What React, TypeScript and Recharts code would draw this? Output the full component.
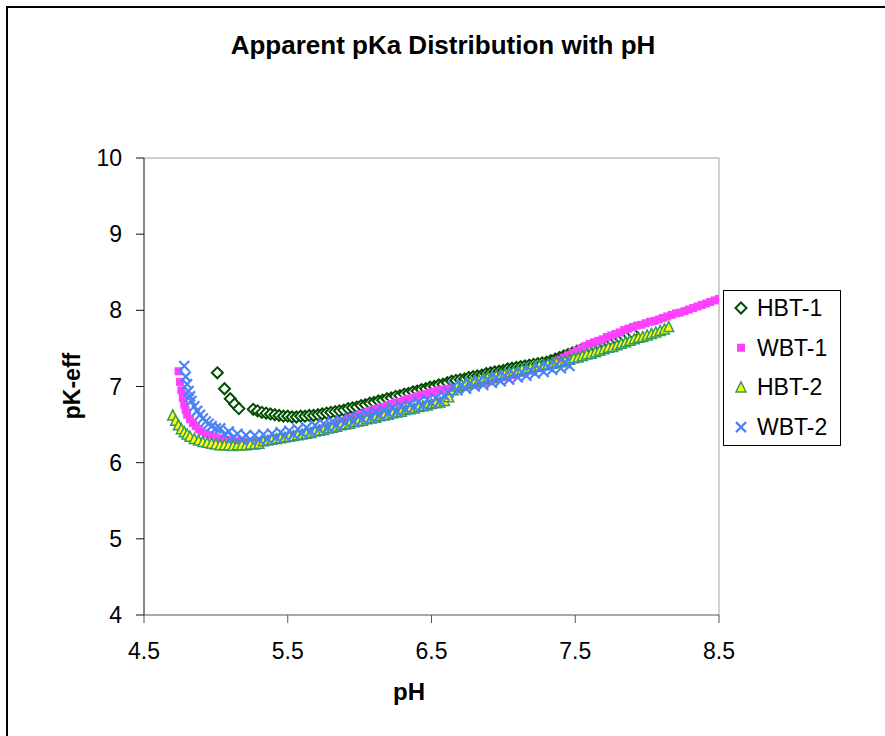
import React from 'react';
import { ScatterChart, Scatter, XAxis, YAxis, ReferenceLine } from 'recharts';

const FONT = '"Liberation Sans", Arial, Helvetica, sans-serif';
const chartTitle = 'Apparent pKa Distribution with pH';
const xTitle = 'pH';
const yTitle = 'pK-eff';
const xTicks = [4.5, 5.5, 6.5, 7.5, 8.5];
const yTicks = [4, 5, 6, 7, 8, 9, 10];
const seriesNames = ['HBT-1', 'WBT-1', 'HBT-2', 'WBT-2'];

// [pH, pK-eff]
const hbt1: [number, number][] = [
  [5.01, 7.18], [5.06, 6.97], [5.10, 6.84], [5.13, 6.77], [5.16, 6.71],
  [5.26, 6.70], [5.29, 6.68], [5.32, 6.66], [5.35, 6.65], [5.38, 6.64], [5.41, 6.63], [5.44, 6.62],
  [5.47, 6.61], [5.50, 6.61], [5.53, 6.60], [5.56, 6.60], [5.59, 6.61], [5.62, 6.61], [5.65, 6.62],
  [5.68, 6.62], [5.71, 6.63], [5.74, 6.64], [5.77, 6.65], [5.80, 6.66], [5.83, 6.67], [5.86, 6.68],
  [5.89, 6.69], [5.92, 6.71], [5.95, 6.72], [5.98, 6.73], [6.01, 6.75], [6.04, 6.76], [6.07, 6.78],
  [6.10, 6.79], [6.13, 6.81], [6.16, 6.82], [6.19, 6.84], [6.22, 6.85], [6.25, 6.87], [6.28, 6.88],
  [6.31, 6.90], [6.34, 6.91], [6.37, 6.93], [6.40, 6.94], [6.43, 6.96], [6.46, 6.97], [6.49, 6.99],
  [6.52, 7.00], [6.55, 7.02], [6.58, 7.03], [6.61, 7.05], [6.64, 7.07], [6.67, 7.08], [6.70, 7.09],
  [6.73, 7.10], [6.76, 7.12], [6.79, 7.13], [6.82, 7.14], [6.85, 7.15], [6.88, 7.17], [6.91, 7.18],
  [6.94, 7.19], [6.97, 7.20], [7.00, 7.21], [7.03, 7.23], [7.06, 7.24], [7.09, 7.25], [7.12, 7.26],
  [7.15, 7.27], [7.18, 7.28], [7.21, 7.29], [7.24, 7.30], [7.27, 7.31], [7.30, 7.32], [7.33, 7.34],
  [7.36, 7.36], [7.39, 7.38], [7.42, 7.40], [7.45, 7.42], [7.48, 7.44], [7.51, 7.46], [7.54, 7.48],
  [7.57, 7.50], [7.60, 7.52], [7.63, 7.54], [7.66, 7.56], [7.69, 7.58], [7.72, 7.60], [7.75, 7.61],
  [7.78, 7.63], [7.81, 7.64], [7.84, 7.66], [7.87, 7.68], [7.90, 7.70],
];

const wbt1: [number, number][] = [
  [4.74, 7.20], [4.75, 7.06], [4.76, 6.95], [4.77, 6.85], [4.78, 6.76], [4.79, 6.69], [4.80, 6.63],
  [4.82, 6.57], [4.84, 6.52], [4.86, 6.48], [4.88, 6.44], [4.90, 6.41], [4.93, 6.38], [4.96, 6.36],
  [4.99, 6.34], [5.02, 6.32], [5.05, 6.31], [5.08, 6.30], [5.11, 6.29], [5.14, 6.28], [5.17, 6.28],
  [5.20, 6.27], [5.23, 6.27], [5.26, 6.27], [5.29, 6.28], [5.32, 6.28], [5.35, 6.29], [5.38, 6.29],
  [5.41, 6.30], [5.44, 6.31], [5.47, 6.32], [5.50, 6.33], [5.53, 6.34], [5.56, 6.35], [5.59, 6.37],
  [5.62, 6.38], [5.65, 6.40], [5.68, 6.41], [5.71, 6.43], [5.74, 6.45], [5.77, 6.47], [5.80, 6.49],
  [5.83, 6.51], [5.86, 6.53], [5.89, 6.55], [5.92, 6.57], [5.95, 6.60], [5.98, 6.62], [6.01, 6.64],
  [6.04, 6.66], [6.07, 6.68], [6.10, 6.70], [6.13, 6.71], [6.16, 6.73], [6.19, 6.75], [6.22, 6.77],
  [6.25, 6.79], [6.28, 6.80], [6.31, 6.82], [6.34, 6.84], [6.37, 6.85], [6.40, 6.87], [6.43, 6.89],
  [6.46, 6.90], [6.49, 6.92], [6.52, 6.93], [6.55, 6.95], [6.58, 6.96], [6.61, 6.97], [6.64, 6.97],
  [6.67, 6.98], [6.70, 6.99], [6.73, 7.00], [6.76, 7.01], [6.79, 7.02], [6.82, 7.03], [6.85, 7.05],
  [6.88, 7.06], [6.91, 7.07], [6.94, 7.09], [6.97, 7.10], [7.00, 7.12], [7.03, 7.13], [7.06, 7.15],
  [7.09, 7.16], [7.12, 7.18], [7.15, 7.19], [7.18, 7.21], [7.21, 7.22], [7.24, 7.24], [7.27, 7.26],
  [7.30, 7.28], [7.33, 7.30], [7.36, 7.33], [7.39, 7.35], [7.42, 7.38], [7.45, 7.41], [7.48, 7.44],
  [7.51, 7.47], [7.54, 7.50], [7.57, 7.53], [7.60, 7.56], [7.63, 7.58], [7.66, 7.60], [7.69, 7.62],
  [7.72, 7.65], [7.75, 7.67], [7.78, 7.69], [7.81, 7.71], [7.84, 7.74], [7.87, 7.76], [7.90, 7.78],
  [7.93, 7.80], [7.96, 7.81], [7.99, 7.83], [8.02, 7.85], [8.05, 7.86], [8.08, 7.88], [8.11, 7.90],
  [8.14, 7.92], [8.17, 7.94], [8.20, 7.96], [8.23, 7.97], [8.26, 7.99], [8.29, 8.01], [8.32, 8.03],
  [8.35, 8.05], [8.38, 8.07], [8.41, 8.09], [8.44, 8.11], [8.47, 8.13], [8.50, 8.15],
];

const hbt2: [number, number][] = [
  [4.70, 6.62], [4.72, 6.55], [4.74, 6.49], [4.76, 6.44], [4.78, 6.40], [4.80, 6.37], [4.82, 6.34],
  [4.85, 6.31], [4.88, 6.29], [4.91, 6.27], [4.94, 6.26], [4.97, 6.25], [5.00, 6.24], [5.03, 6.23],
  [5.06, 6.23], [5.09, 6.23], [5.12, 6.22], [5.15, 6.23], [5.18, 6.23], [5.21, 6.23], [5.24, 6.24],
  [5.27, 6.24], [5.30, 6.25], [5.33, 6.28], [5.36, 6.29], [5.39, 6.30], [5.42, 6.31], [5.45, 6.32],
  [5.48, 6.33], [5.51, 6.34], [5.54, 6.35], [5.57, 6.36], [5.60, 6.37], [5.63, 6.38], [5.66, 6.39],
  [5.69, 6.41], [5.72, 6.42], [5.75, 6.43], [5.78, 6.45], [5.81, 6.46], [5.84, 6.47], [5.87, 6.49],
  [5.90, 6.50], [5.93, 6.51], [5.96, 6.53], [5.99, 6.54], [6.02, 6.55], [6.05, 6.57], [6.08, 6.58],
  [6.11, 6.59], [6.14, 6.61], [6.17, 6.62], [6.20, 6.63], [6.23, 6.65], [6.26, 6.66], [6.29, 6.67],
  [6.32, 6.69], [6.35, 6.70], [6.38, 6.71], [6.41, 6.73], [6.44, 6.74], [6.47, 6.75], [6.50, 6.77],
  [6.53, 6.78], [6.56, 6.79], [6.59, 6.81], [6.62, 6.86], [6.65, 6.95], [6.68, 7.00], [6.71, 7.02],
  [6.74, 7.04], [6.77, 7.05], [6.80, 7.07], [6.83, 7.08], [6.86, 7.10], [6.89, 7.11], [6.92, 7.12],
  [6.95, 7.14], [6.98, 7.15], [7.01, 7.16], [7.04, 7.18], [7.07, 7.19], [7.10, 7.20], [7.13, 7.22],
  [7.16, 7.23], [7.19, 7.24], [7.22, 7.26], [7.25, 7.27], [7.28, 7.28], [7.31, 7.29], [7.34, 7.30],
  [7.37, 7.31], [7.40, 7.32], [7.43, 7.33], [7.46, 7.35], [7.49, 7.37], [7.52, 7.38], [7.55, 7.40],
  [7.58, 7.42], [7.61, 7.43], [7.64, 7.45], [7.67, 7.47], [7.70, 7.49], [7.73, 7.51], [7.76, 7.52],
  [7.79, 7.54], [7.82, 7.56], [7.85, 7.58], [7.88, 7.60], [7.91, 7.62], [7.94, 7.64], [7.97, 7.65],
  [8.00, 7.67], [8.03, 7.69], [8.06, 7.71], [8.09, 7.73], [8.12, 7.75], [8.15, 7.78],
];

const wbt2: [number, number][] = [
  [4.78, 7.27], [4.79, 7.13], [4.80, 7.03], [4.81, 6.94], [4.82, 6.87], [4.83, 6.81], [4.85, 6.74],
  [4.87, 6.68], [4.89, 6.63], [4.91, 6.58], [4.93, 6.54], [4.95, 6.51], [4.97, 6.48], [5.00, 6.45],
  [5.03, 6.45], [5.06, 6.37], [5.09, 6.41], [5.12, 6.33], [5.15, 6.38], [5.18, 6.31], [5.21, 6.36],
  [5.24, 6.30], [5.27, 6.36], [5.30, 6.30], [5.33, 6.37], [5.36, 6.31], [5.39, 6.38], [5.42, 6.33],
  [5.45, 6.40], [5.48, 6.35], [5.51, 6.42], [5.54, 6.37], [5.57, 6.44], [5.60, 6.39], [5.63, 6.46],
  [5.66, 6.41], [5.69, 6.49], [5.72, 6.44], [5.75, 6.51], [5.78, 6.46], [5.81, 6.54], [5.84, 6.49],
  [5.87, 6.56], [5.90, 6.52], [5.93, 6.59], [5.96, 6.54], [5.99, 6.61], [6.02, 6.57], [6.05, 6.64],
  [6.08, 6.59], [6.11, 6.67], [6.14, 6.62], [6.17, 6.69], [6.20, 6.65], [6.23, 6.72], [6.26, 6.67],
  [6.29, 6.75], [6.32, 6.70], [6.35, 6.77], [6.38, 6.73], [6.41, 6.80], [6.44, 6.75], [6.47, 6.83],
  [6.50, 6.78], [6.53, 6.85], [6.56, 6.81], [6.59, 6.88], [6.62, 6.92], [6.65, 7.00], [6.68, 6.95],
  [6.71, 7.02], [6.74, 6.97], [6.77, 7.05], [6.80, 7.00], [6.83, 7.07], [6.86, 7.02], [6.89, 7.09],
  [6.92, 7.05], [6.95, 7.12], [6.98, 7.07], [7.01, 7.14], [7.04, 7.09], [7.07, 7.17], [7.10, 7.12],
  [7.13, 7.19], [7.16, 7.14], [7.19, 7.21], [7.22, 7.17], [7.25, 7.24], [7.28, 7.19], [7.31, 7.26],
  [7.34, 7.22], [7.37, 7.29], [7.40, 7.24], [7.43, 7.31], [7.46, 7.27],
];

const toPts = (a: [number, number][]) => a.map(([ph, pk]) => ({ ph, pk }));

const GREEN = '#004d00';
const PINK = '#ff40ff';
const YELLOW = '#ffff00';
const SEA = '#339966';
const BLUE = '#4a82f7';

const DiamondMark = (p: any) => {
  const { cx, cy } = p;
  const r = 5.5;
  return <path d={`M${cx},${cy - r}L${cx + r},${cy}L${cx},${cy + r}L${cx - r},${cy}Z`} fill="#fff" stroke={GREEN} strokeWidth={2} />;
};
const SquareMark = (p: any) => {
  const { cx, cy } = p;
  return <rect x={cx - 4} y={cy - 4} width={8} height={8} fill={PINK} />;
};
const TriangleMark = (p: any) => {
  const { cx, cy } = p;
  return <path d={`M${cx},${cy - 5.5}L${cx + 5},${cy + 4.5}L${cx - 5},${cy + 4.5}Z`} fill={YELLOW} stroke={SEA} strokeWidth={1.5} />;
};
const CrossMark = (p: any) => {
  const { cx, cy } = p;
  const r = 5;
  return (
    <g stroke={BLUE} strokeWidth={2.2}>
      <line x1={cx - r} y1={cy - r} x2={cx + r} y2={cy + r} />
      <line x1={cx - r} y1={cy + r} x2={cx + r} y2={cy - r} />
    </g>
  );
};

const legendIcons = [DiamondMark, SquareMark, TriangleMark, CrossMark];

export default function App() {
  return (
    <div style={{ position: 'absolute', left: 0, top: 0, width: 885, height: 736, overflow: 'hidden', background: '#fff', fontFamily: FONT }}>
      <div style={{ position: 'absolute', left: 6, top: 6, width: 900, height: 760, borderLeft: '2px solid #000', borderTop: '2px solid #000' }} />
      <div style={{ position: 'absolute', left: 0, top: 0 }}>
        <ScatterChart width={885} height={736} margin={{ top: 158, right: 166, bottom: 61, left: 84 }}>
          <XAxis
            type="number"
            dataKey="ph"
            domain={[4.5, 8.5]}
            ticks={xTicks}
            allowDataOverflow
            height={60}
            tickSize={8}
            tickMargin={20}
            tickFormatter={(v: number) => v.toFixed(1)}
            axisLine={{ stroke: '#555' }}
            tickLine={{ stroke: '#555' }}
            tick={{ fill: '#000', fontSize: 23, fontFamily: FONT }}
          />
          <YAxis
            type="number"
            dataKey="pk"
            domain={[4, 10]}
            ticks={yTicks}
            allowDataOverflow
            width={60}
            tickSize={8}
            tickMargin={14}
            axisLine={{ stroke: '#111' }}
            tickLine={{ stroke: '#111' }}
            tick={{ fill: '#000', fontSize: 23, fontFamily: FONT }}
          />
          <ReferenceLine y={10} stroke="#a0a0a0" strokeWidth={1} />
          <ReferenceLine x={8.5} stroke="#a0a0a0" strokeWidth={1} />
          <Scatter name={seriesNames[0]} data={toPts(hbt1)} shape={DiamondMark} isAnimationActive={false} />
          <Scatter name={seriesNames[1]} data={toPts(wbt1)} shape={SquareMark} isAnimationActive={false} />
          <Scatter name={seriesNames[2]} data={toPts(hbt2)} shape={TriangleMark} isAnimationActive={false} />
          <Scatter name={seriesNames[3]} data={toPts(wbt2)} shape={CrossMark} isAnimationActive={false} />
        </ScatterChart>
      </div>
      <svg width={885} height={736} style={{ position: 'absolute', left: 0, top: 0, pointerEvents: 'none' }}>
        <text x={443} y={54} textAnchor="middle" fontFamily={FONT} fontWeight="bold" fontSize={26} fill="#000">{chartTitle}</text>
        <text x={409} y={700} textAnchor="middle" fontFamily={FONT} fontWeight="bold" fontSize={24} fill="#000">{xTitle}</text>
        <text x={80} y={386} textAnchor="middle" fontFamily={FONT} fontWeight="bold" fontSize={23} fill="#000" transform="rotate(-90 80 386)">{yTitle}</text>
        <rect x={723.5} y={290.5} width={117} height={155} fill="#fff" stroke="#000" strokeWidth={1} />
        {seriesNames.map((n, i) => {
          const cy = 308 + i * 39.7;
          const Icon = legendIcons[i];
          return (
            <g key={n}>
              <Icon cx={741} cy={cy} />
              <text x={757} y={cy + 8} fontFamily={FONT} fontSize={23} fill="#000">{n}</text>
            </g>
          );
        })}
      </svg>
    </div>
  );
}
